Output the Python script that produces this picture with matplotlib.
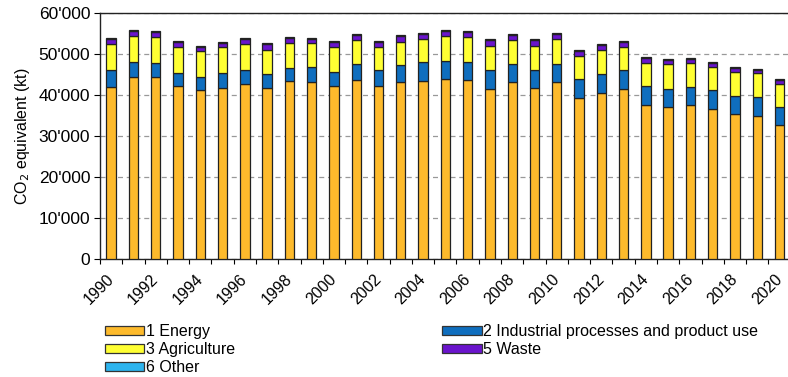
import numpy as np
import matplotlib.pyplot as plt
import matplotlib.transforms as mtransforms
from matplotlib.ticker import FuncFormatter
from matplotlib.patches import Patch

plt.rcParams['font.family'] = ['Liberation Sans', 'DejaVu Sans']

years = list(range(1990, 2021))
# values in kt CO2 eq
energy = [41900, 44430, 44430, 42230, 41250, 41820, 42800, 41820, 43530, 43120,
          42150, 43780, 42150, 43120, 43530, 44020, 43780, 41580, 43120, 41820,
          43120, 39210, 40520, 41490, 37580, 37170, 37580, 36600, 35300, 34970,
          32690]
industry = [4240, 3670, 3340, 3260, 3180, 3590, 3340, 3340, 3180, 3670,
            3530, 3910, 3990, 4240, 4570, 4400, 4320, 4560, 4570, 4320,
            4570, 4650, 4640, 4570, 4650, 4410, 4320, 4650, 4560, 4570,
            4320]
agriculture = [6360, 6440, 6360, 6280, 6440, 6360, 6360, 5950, 6030, 5950,
               6090, 5790, 5630, 5710, 5700, 6040, 6030, 5950, 5790, 5950,
               6030, 5700, 5950, 5710, 5700, 6030, 6030, 5710, 5790, 5790,
               5710]
waste = [1220, 1210, 1220, 1210, 890, 970, 1220, 1300, 1300, 980,
         1290, 1300, 1210, 1300, 1220, 1290, 1220, 1300, 1300, 1380,
         1300, 1220, 1060, 1290, 1220, 890, 980, 970, 970, 890,
         890]
other = [250] * 31

series = [
    ('1 Energy', energy, '#FDBA2C'),
    ('2 Industrial processes and product use', industry, '#0F6EBE'),
    ('3 Agriculture', agriculture, '#FFFF33'),
    ('5 Waste', waste, '#6A14CC'),
    ('6 Other', other, '#2DB4EE'),
]

fig = plt.figure(figsize=(7.88, 3.77), dpi=100)
ax = fig.add_axes([100 / 788, 1 - 259 / 377, 690.7 / 788, (259 - 13.3) / 377])

x = np.arange(len(years))
bottom = np.zeros(len(years))
handles = {}
for name, vals, col in series:
    vals = np.array(vals, dtype=float)
    ax.bar(x, vals, width=0.42, bottom=bottom, color=col, edgecolor='#222222',
           linewidth=0.9, zorder=3)
    bottom += vals
    handles[name] = Patch(facecolor=col, edgecolor='#333333', linewidth=0.9)

ax.set_xlim(-0.5, len(years) - 0.5)
ax.set_ylim(0, 60000)
ax.set_yticks(range(0, 60001, 10000))
ax.yaxis.set_major_formatter(FuncFormatter(lambda v, p: f"{int(v):,}".replace(',', "'")))
ax.yaxis.grid(True, linestyle=(0, (4, 3)), color='#999999', linewidth=0.9, zorder=0)

# ticks between the categories, labels on every second year
ax.set_xticks(np.arange(-0.5, len(years), 1))
ax.set_xticklabels([])
ax.set_xticks(x[::2], minor=True)
ax.set_xticklabels([str(y) for y in years[::2]], minor=True, rotation=45,
                   ha='right', rotation_mode='anchor', fontsize=11.5)
ax.tick_params(axis='x', which='minor', length=0, pad=9)
ax.tick_params(axis='x', which='major', length=3.5, direction='out')
ax.tick_params(axis='y', length=4, labelsize=12.5, pad=3)
shift = mtransforms.ScaledTranslation(-5 / 100, 0, fig.dpi_scale_trans)
for lab in ax.get_xticklabels(minor=True):
    lab.set_transform(lab.get_transform() + shift)

for s in ax.spines.values():
    s.set_linewidth(1.0)
    s.set_color('#222222')

ax.set_ylabel('CO$_2$ equivalent (kt)', fontsize=11.5, labelpad=5)

order = ['1 Energy', '3 Agriculture', '6 Other',
         '2 Industrial processes and product use', '5 Waste']
fig.legend([handles[n] for n in order], order, ncol=2, frameon=False,
           loc='upper left', bbox_to_anchor=(105 / 788, 1 - 324 / 377),
           fontsize=11.5, handlelength=2.45, handleheight=0.5, handletextpad=0.1,
           labelspacing=0.2, columnspacing=13.0, borderaxespad=0, borderpad=0)

fig.savefig('out.png', dpi=100)
